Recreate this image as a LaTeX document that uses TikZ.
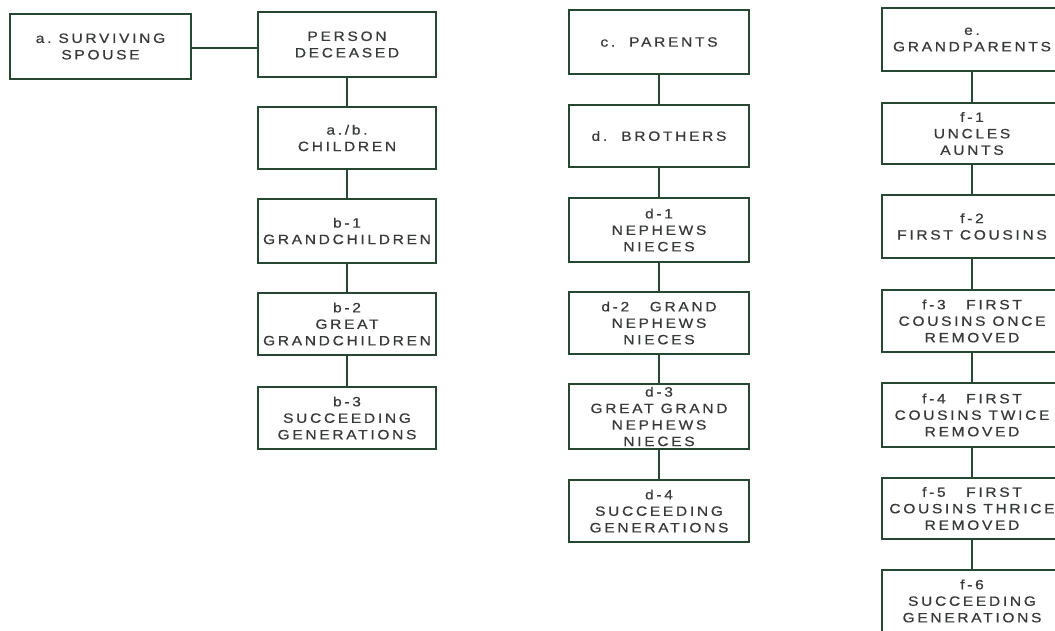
\documentclass[tikz,border=0pt]{standalone}
\usepackage{fontspec}
\setmainfont{Liberation Sans}[FakeStretch=1.15,LetterSpace=20,FakeBold=0.6]
\definecolor{boxline}{RGB}{38,72,50}
\definecolor{txt}{RGB}{55,58,56}
\begin{document}
\begin{tikzpicture}[x=1pt,y=-1pt,
  kbox/.style={draw=boxline,line width=1.6pt,fill=white,minimum width=178pt,minimum height=63pt,
    inner sep=0pt,align=center,text=txt,font=\fontsize{13.5}{16.5}\selectfont},
  link/.style={draw=boxline,line width=1.6pt}]
\useasboundingbox (0,0) rectangle (1055,631);
\clip (0,0) rectangle (1055,631);
\fill[white] (0,0) rectangle (1055,631);
% column 1
\node[kbox,minimum width=181pt,minimum height=65pt] (spouse) at (100.5,46.5) {a.\ SURVIVING\\SPOUSE};
\node[kbox,minimum height=65pt] (deceased) at (347,44.5) {PERSON\\DECEASED};
\node[kbox,minimum height=62pt] (children) at (347,138) {a./b.\\CHILDREN};
\node[kbox,minimum height=64pt] (b1) at (347,231) {b-1\\GRANDCHILDREN};
\node[kbox,minimum height=62pt] (b2) at (347,324) {b-2\\GREAT\\GRANDCHILDREN};
\node[kbox,minimum height=62pt] (b3) at (347,418) {b-3\\SUCCEEDING\\GENERATIONS};
% column 2
\node[kbox,minimum width=180pt,minimum height=64pt] (c) at (659,42) {c.\ \ PARENTS};
\node[kbox,minimum width=180pt,minimum height=62pt] (d) at (659,136) {d.\ \ BROTHERS};
\node[kbox,minimum width=180pt,minimum height=64pt] (d1) at (659,230) {d-1\\NEPHEWS\\NIECES};
\node[kbox,minimum width=180pt,minimum height=62pt] (d2) at (659,323) {d-2\quad\ GRAND\\NEPHEWS\\NIECES};
\node[kbox,minimum width=180pt,minimum height=65pt] (d3) at (659,416.5) {d-3\\GREAT GRAND\\NEPHEWS\\NIECES};
\node[kbox,minimum width=180pt,minimum height=62pt] (d4) at (659,511) {d-4\\SUCCEEDING\\GENERATIONS};
% column 3
\node[kbox,minimum width=180pt,minimum height=63pt] (e) at (972,39.5) {e.\\GRANDPARENTS};
\node[kbox,minimum width=180pt,minimum height=61pt] (f1) at (972,133.5) {f-1\\UNCLES\\AUNTS};
\node[kbox,minimum width=180pt,minimum height=63pt] (f2) at (972,226.5) {f-2\\FIRST COUSINS};
\node[kbox,minimum width=180pt,minimum height=62pt] (f3) at (972,321) {f-3\quad\ FIRST\\COUSINS ONCE\\REMOVED};
\node[kbox,minimum width=180pt,minimum height=64pt] (f4) at (972,415) {f-4\quad\ FIRST\\COUSINS TWICE\\REMOVED};
\node[kbox,minimum width=180pt,minimum height=61pt] (f5) at (972,508.5) {f-5\quad\ FIRST\\COUSINS THRICE\\REMOVED};
\node[kbox,minimum width=180pt,minimum height=62pt] (f6) at (972,601) {f-6\\SUCCEEDING\\GENERATIONS};
% connectors
\draw[link] ([yshift=-1.5pt]spouse.east) -- ([yshift=-1.5pt]spouse.east -| deceased.west);
\draw[link] (deceased) -- (children);
\draw[link] (children) -- (b1);
\draw[link] (b1) -- (b2);
\draw[link] (b2) -- (b3);
\draw[link] (c) -- (d);
\draw[link] (d) -- (d1);
\draw[link] (d1) -- (d2);
\draw[link] (d2) -- (d3);
\draw[link] (d3) -- (d4);
\draw[link] (e) -- (f1);
\draw[link] (f1) -- (f2);
\draw[link] (f2) -- (f3);
\draw[link] (f3) -- (f4);
\draw[link] (f4) -- (f5);
\draw[link] (f5) -- (f6);
\end{tikzpicture}
\end{document}
